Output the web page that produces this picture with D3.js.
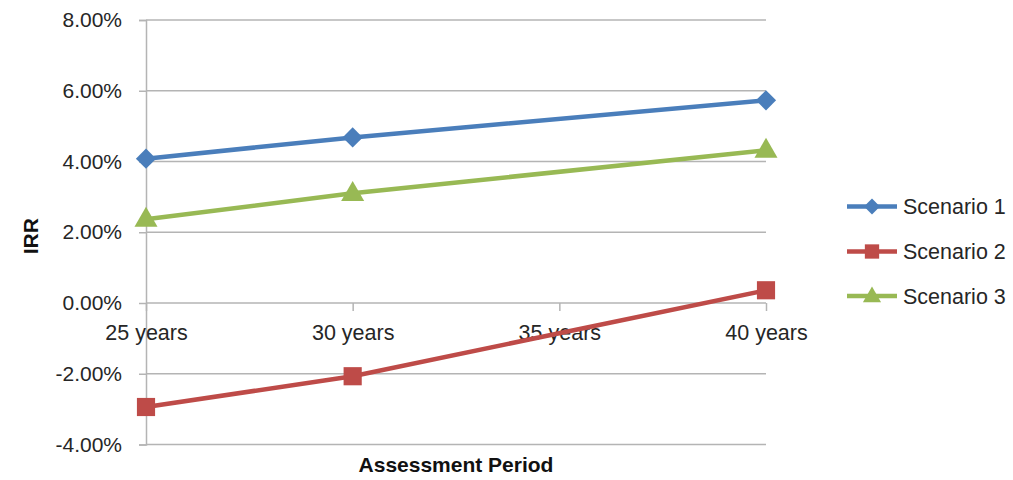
<!DOCTYPE html>
<html>
<head>
<meta charset="utf-8">
<script src="https://cdn.jsdelivr.net/npm/d3@7"></script>
<style>
  html, body { margin: 0; padding: 0; background: #fff; }
  svg { display: block; font-family: "Liberation Sans", Arial, sans-serif; }
</style>
</head>
<body>
<svg id="chart" width="1013" height="480"></svg>
<script>
// Assessment period (years) and IRR (%) per scenario
const years = [25, 30, 40];
const xTicks = [25, 30, 35, 40];
const yTicks = [-4, -2, 0, 2, 4, 6, 8];
const scenarioNames = ["Scenario 1", "Scenario 2", "Scenario 3"];
const scenario1 = [4.08, 4.68, 5.73];
const scenario2 = [-2.94, -2.07, 0.36];
const scenario3 = [2.37, 3.10, 4.32];

const series = [
  { name: scenarioNames[0], values: scenario1, color: "#4A7EBB", marker: "diamond" },
  { name: scenarioNames[1], values: scenario2, color: "#BE4B48", marker: "square" },
  { name: scenarioNames[2], values: scenario3, color: "#98B954", marker: "triangle" }
];

const svg = d3.select("#chart");
const plotLeft = 146, plotRight = 766, plotTop = 20, plotBottom = 444.5;

const x = d3.scaleLinear().domain([25, 40]).range([plotLeft, plotRight]);
const y = d3.scaleLinear().domain([-4, 8]).range([plotBottom, plotTop]);

const gridColor = "#b4b4b4";
const textColor = "#262626";

// Horizontal gridlines
svg.append("g").selectAll("line")
  .data(yTicks)
  .join("line")
  .attr("x1", plotLeft).attr("x2", plotRight)
  .attr("y1", d => y(d)).attr("y2", d => y(d))
  .attr("stroke", gridColor).attr("stroke-width", 1.5);

// Value axis with short outward ticks
const yAxis = svg.append("g")
  .attr("transform", `translate(${plotLeft},0)`)
  .call(d3.axisLeft(y).tickValues(yTicks).tickSize(7).tickPadding(17)
    .tickFormat(d => d.toFixed(2) + "%"));
yAxis.select(".domain").attr("stroke", gridColor).attr("stroke-width", 1.5);
yAxis.selectAll(".tick line").attr("stroke", gridColor).attr("stroke-width", 1.5);
yAxis.selectAll(".tick text").attr("fill", textColor).style("font-size", "21px");

// Category axis crossing at 0%
const xAxis = svg.append("g")
  .attr("transform", `translate(0,${y(0)})`)
  .call(d3.axisBottom(x).tickValues(xTicks).tickSize(8).tickPadding(14)
    .tickFormat(d => d + " years"));
xAxis.select(".domain").remove();
xAxis.selectAll(".tick line").attr("stroke", gridColor).attr("stroke-width", 1.5);
xAxis.selectAll(".tick text").attr("fill", textColor).style("font-size", "21.5px");

// Marker shapes
const symbolTypes = { diamond: d3.symbolDiamond2, square: d3.symbolSquare, triangle: d3.symbolTriangle };
const symbolSizes = { diamond: 260, square: 330, triangle: 230 };
function symbolPath(kind, scale) {
  return d3.symbol(symbolTypes[kind], symbolSizes[kind] * scale)();
}

// Series lines
const line = d3.line().x((d, i) => x(years[i])).y(d => y(d));
series.forEach(s => {
  svg.append("path")
    .datum(s.values)
    .attr("d", line)
    .attr("fill", "none")
    .attr("stroke", s.color)
    .attr("stroke-width", 4.5)
    .attr("stroke-linejoin", "round");
});

// Series markers
series.forEach(s => {
  svg.append("g").selectAll("path")
    .data(s.values)
    .join("path")
    .attr("transform", (d, i) => {
      const dy = s.marker === "triangle" ? 1 : 0;
      return `translate(${x(years[i])},${y(d) + dy})`;
    })
    .attr("d", symbolPath(s.marker, 1))
    .attr("fill", s.color);
});

// Axis titles
svg.append("text")
  .attr("x", (plotLeft + plotRight) / 2).attr("y", 472)
  .attr("text-anchor", "middle")
  .attr("font-weight", "bold")
  .attr("fill", "#111")
  .style("font-size", "21px")
  .text("Assessment Period");

svg.append("text")
  .attr("transform", `translate(38,${(plotTop + plotBottom) / 2 + 4}) rotate(-90)`)
  .attr("text-anchor", "middle")
  .attr("font-weight", "bold")
  .attr("fill", "#111")
  .style("font-size", "21px")
  .text("IRR");

// Legend
const legend = svg.append("g");
const legendRows = [206.5, 251.5, 296];
series.forEach((s, i) => {
  const g = legend.append("g").attr("transform", `translate(0,${legendRows[i]})`);
  g.append("line")
    .attr("x1", 847).attr("x2", 897)
    .attr("stroke", s.color).attr("stroke-width", 4.5);
  g.append("path")
    .attr("transform", `translate(872,${s.marker === "triangle" ? 1 : 0})`)
    .attr("d", symbolPath(s.marker, 0.62))
    .attr("fill", s.color);
  g.append("text")
    .attr("x", 903).attr("y", 7.5)
    .attr("fill", textColor)
    .style("font-size", "21.5px")
    .text(s.name);
});
</script>
</body>
</html>
